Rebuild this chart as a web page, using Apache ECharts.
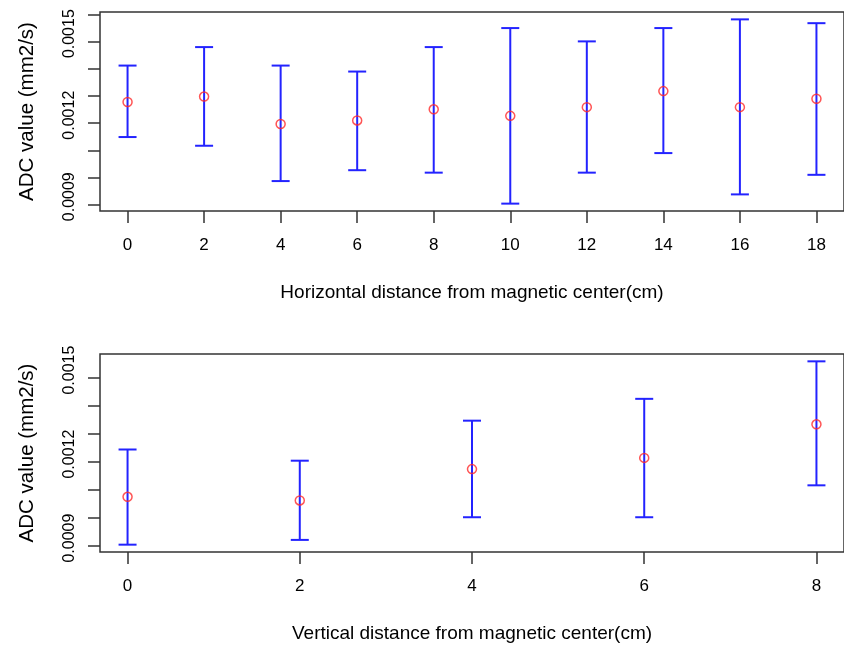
<!DOCTYPE html>
<html>
<head>
<meta charset="utf-8">
<script src="https://cdn.jsdelivr.net/npm/echarts@6/dist/echarts.min.js"></script>
<style>
  html, body { margin: 0; padding: 0; background: #fff; }
  #chart { width: 844px; height: 645px; }
</style>
</head>
<body>
<div id="chart"></div>
<script>
// horizontal profile
const hDist = [0, 2, 4, 6, 8, 10, 12, 14, 16, 18]
const hMean = [0.001278, 0.001298, 0.001197, 0.001210, 0.001251, 0.001227, 0.001259, 0.001318, 0.001259, 0.001290]
const hLow = [0.001149, 0.001117, 0.000987, 0.001027, 0.001018, 0.000904, 0.001018, 0.001090, 0.000938, 0.001010]
const hHigh = [0.001412, 0.001480, 0.001412, 0.001390, 0.001480, 0.001550, 0.001501, 0.001550, 0.001582, 0.001568]

// vertical profile
const vDist = [0, 2, 4, 6, 8]
const vMean = [0.001076, 0.001063, 0.001175, 0.001215, 0.001335]
const vLow = [0.000905, 0.000922, 0.001003, 0.001003, 0.001117]
const vHigh = [0.001245, 0.001205, 0.001348, 0.001426, 0.001560]

// axis ticks
const yTicksTop = [0.0009, 0.0010, 0.0011, 0.0012, 0.0013, 0.0014, 0.0015, 0.0016]
const yTicksBottom = [0.0009, 0.0010, 0.0011, 0.0012, 0.0013, 0.0014, 0.0015]
const yTickLabels = [0.0009, 0.0012, 0.0015]

const FONT = 'Liberation Sans, Arial, sans-serif'
const BLUE = '#2323ff'
const RED = '#ff2a2a'
const INK = '#333'

// R style axis range: data range widened by 4%
function padRange(lo, hi) {
  const d = (hi - lo) * 0.04
  return [lo - d, hi + d]
}

function makePanel(idx, dist, mean, low, high, yTicks, xName) {
  const xr = padRange(Math.min(...dist), Math.max(...dist))
  const yr = padRange(Math.min(...low), Math.max(...high))
  const xAxis = {
    type: 'value',
    gridIndex: idx,
    min: xr[0],
    max: xr[1],
    name: xName,
    nameLocation: 'middle',
    nameGap: 72,
    nameTextStyle: { fontFamily: FONT, fontSize: 19, color: '#000' },
    axisLine: { show: false, onZero: false },
    splitLine: { show: false },
    axisTick: {
      show: true,
      length: 12,
      customValues: dist,
      lineStyle: { color: INK, width: 1.5 }
    },
    axisLabel: {
      customValues: dist,
      margin: 26,
      fontFamily: FONT,
      fontSize: 17,
      color: '#000'
    }
  }
  const yAxis = {
    type: 'value',
    gridIndex: idx,
    min: yr[0],
    max: yr[1],
    name: 'ADC value (mm2/s)',
    nameLocation: 'middle',
    nameGap: 62,
    nameTextStyle: { fontFamily: FONT, fontSize: 20.5, color: '#000' },
    axisLine: { show: false, onZero: false },
    splitLine: { show: false },
    axisTick: {
      show: true,
      length: 12,
      customValues: yTicks,
      lineStyle: { color: INK, width: 1.5 }
    },
    axisLabel: {
      customValues: yTickLabels,
      rotate: 90,
      margin: 22,
      padding: [0, 0, 0, 16],
      fontFamily: FONT,
      fontSize: 16,
      color: '#000',
      formatter: (v) => v.toFixed(4)
    }
  }
  const bars = {
    type: 'custom',
    xAxisIndex: idx,
    yAxisIndex: idx,
    data: dist.map((d, i) => [d, low[i], high[i]]),
    encode: { x: 0, y: [1, 2] },
    renderItem: (params, api) => {
      const lo = api.coord([api.value(0), api.value(1)])
      const hi = api.coord([api.value(0), api.value(2)])
      const cap = 9
      const style = { stroke: BLUE, lineWidth: 2 }
      return {
        type: 'group',
        children: [
          { type: 'line', shape: { x1: lo[0], y1: lo[1], x2: hi[0], y2: hi[1] }, style },
          { type: 'line', shape: { x1: hi[0] - cap, y1: hi[1], x2: hi[0] + cap, y2: hi[1] }, style },
          { type: 'line', shape: { x1: lo[0] - cap, y1: lo[1], x2: lo[0] + cap, y2: lo[1] }, style }
        ]
      }
    },
    silent: true,
    z: 3
  }
  const points = {
    type: 'scatter',
    xAxisIndex: idx,
    yAxisIndex: idx,
    data: dist.map((d, i) => [d, mean[i]]),
    symbol: 'circle',
    symbolSize: 9,
    itemStyle: { color: 'rgba(0,0,0,0)', borderColor: RED, borderWidth: 1.5 },
    silent: true,
    z: 4
  }
  return { xAxis, yAxis, series: [bars, points] }
}

const topPanel = makePanel(0, hDist, hMean, hLow, hHigh, yTicksTop, 'Horizontal distance from magnetic center(cm)')
const bottomPanel = makePanel(1, vDist, vMean, vLow, vHigh, yTicksBottom, 'Vertical distance from magnetic center(cm)')

const chart = echarts.init(document.getElementById('chart'), null, { renderer: 'canvas' })
chart.setOption({
  backgroundColor: '#fff',
  animation: false,
  grid: [
    { left: 100, top: 12, width: 744, height: 199, show: true, borderColor: INK, borderWidth: 1.5, outerBoundsMode: 'none' },
    { left: 100, top: 354, width: 744, height: 198, show: true, borderColor: INK, borderWidth: 1.5, outerBoundsMode: 'none' }
  ],
  xAxis: [topPanel.xAxis, bottomPanel.xAxis],
  yAxis: [topPanel.yAxis, bottomPanel.yAxis],
  series: [...topPanel.series, ...bottomPanel.series]
})
</script>
</body>
</html>
